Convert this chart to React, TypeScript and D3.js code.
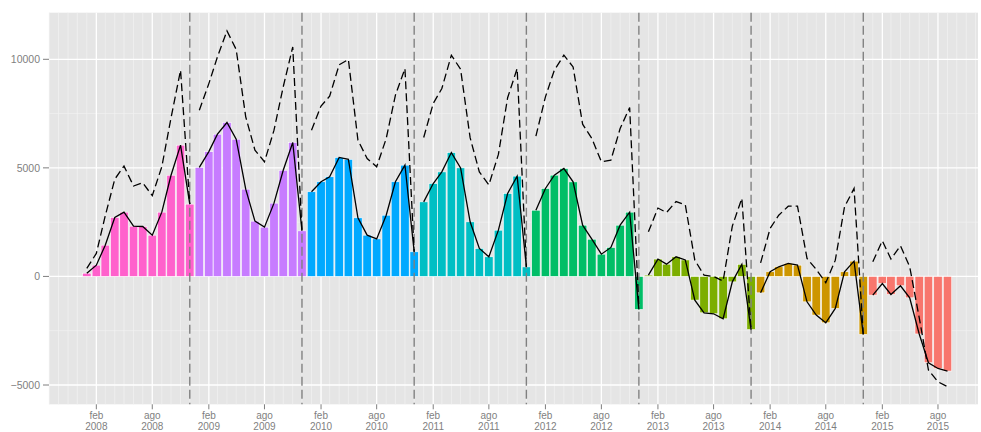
import React from "react";
import * as d3 from "d3";

const years = [2008, 2009, 2010, 2011, 2012, 2013, 2014, 2015];
const yearColors = ["#FF61CC", "#C77CFF", "#00A9FF", "#00BFC4", "#00BE67", "#7CAE00", "#CD9600", "#F8766D"];

// monthly values, Jan 2008 .. Sep 2015
const barValues = [
  150, 520, 1440, 2715, 2960, 2315, 2300, 1900, 2960, 4660, 6045, 3330,
  5020, 5750, 6550, 7090, 6320, 4020, 2545, 2270, 3375, 4890, 6170, 2100,
  3900, 4360, 4590, 5480, 5390, 2700, 1900, 1730, 2820, 4360, 5125, 1135,
  3435, 4280, 4815, 5705, 5000, 2515, 1290, 905, 2130, 3820, 4620, 440,
  3050, 4050, 4665, 4970, 4355, 2360, 1715, 1025, 1335, 2360, 2960, -1520,
  60, 800, 565, 905, 760, -1090, -1675, -1720, -1950, -250, 560, -2450,
  -755, 215, 445, 600, 520, -1170, -1780, -2135, -1475, 215, 705, -2670,
  -860, -325, -830, -430, -985, -2650, -3975, -4240, -4360,
];

const dashValues = [
  370, 1060, 2790, 4480, 5080, 4165, 4315, 3720, 5050, 7300, 9500, 3330,
  7650, 8880, 10110, 11310, 10450, 7350, 5815, 5280, 6735, 8730, 10570, 2100,
  6735, 7850, 8300, 9750, 9990, 6280, 5430, 5050, 6350, 8350, 9575, 1135,
  6400, 7965, 8655, 10190, 9540, 6390, 4815, 4215, 5620, 8230, 9575, 440,
  6460, 8270, 9500, 10190, 9650, 7010, 6350, 5280, 5355, 6810, 7780, -1450,
  2055, 3150, 2945, 3450, 3300, 750, 60, 0, -215, 2320, 3600, -2450,
  625, 2210, 2820, 3235, 3235, 830, 320, -290, 750, 3205, 4050, -2670,
  675, 1640, 800, 1410, 445, -1900, -4310, -4850, -5080,
];

const xTickMonths = [1, 7];
const xTickNames = ["feb", "ago"];
const yTicks = [-5000, 0, 5000, 10000];
const yMinorTicks = [-2500, 2500, 7500];

const W = 981;
const H = 432;
const PL = 49;
const PR = 978;
const PT = 12.7;
const PB = 404.3;
const FONT = "'Liberation Sans', Arial, Helvetica, sans-serif";
const AXIS_COL = "#7f7f7f";

export default function App() {
  const dates = barValues.map((_, i) => new Date(Date.UTC(2008, i, 1)));
  const x = d3
    .scaleUtc()
    .domain([new Date(Date.UTC(2008, 0, 1)), new Date(Date.UTC(2015, 8, 1))])
    .range([86.8, 947.5]);
  const y = d3.scaleLinear().domain([-5000, 10000]).range([385, 59.3]);

  const pxPerDay = (x.range()[1] - x.range()[0]) / 2799;
  const barW = 27.5 * pxPerDay;

  const allMonths = d3.utcMonth.range(x.invert(PL), x.invert(PR));
  const minorMonths = allMonths.filter((d) => !xTickMonths.includes(d.getUTCMonth()));
  const majorTicks: { d: Date; m: string; yr: number }[] = [];
  years.forEach((yr) =>
    xTickMonths.forEach((m, k) => majorTicks.push({ d: new Date(Date.UTC(yr, m, 1)), m: xTickNames[k], yr }))
  );
  const vlines = years.slice(0, -1).map((yr) => new Date(Date.UTC(yr, 11, 1)));

  const line = d3
    .line<[Date, number]>()
    .x((p) => x(p[0]))
    .y((p) => y(p[1]));

  const groups = years.map((yr, gi) => {
    const idx = dates.map((d, i) => i).filter((i) => dates[i].getUTCFullYear() === yr);
    return {
      yr,
      color: yearColors[gi],
      idx,
      solid: line(idx.map((i) => [dates[i], barValues[i]] as [Date, number])) || "",
      dashed: line(idx.map((i) => [dates[i], dashValues[i]] as [Date, number])) || "",
    };
  });

  return (
    <svg
      width={W}
      height={H}
      style={{ position: "fixed", left: 0, top: 0, background: "#fff" }}
      fontFamily={FONT}
    >
      <rect x={PL} y={PT} width={PR - PL} height={PB - PT} fill="#E5E5E5" />
      {yMinorTicks.map((v) => (
        <line key={"ym" + v} x1={PL} x2={PR} y1={y(v)} y2={y(v)} stroke="#F2F2F2" strokeWidth={0.7} />
      ))}
      {minorMonths.map((d) => (
        <line key={"xm" + d.getTime()} x1={x(d)} x2={x(d)} y1={PT} y2={PB} stroke="#F2F2F2" strokeWidth={0.7} />
      ))}
      {yTicks.map((v) => (
        <line key={"yM" + v} x1={PL} x2={PR} y1={y(v)} y2={y(v)} stroke="#fff" strokeWidth={1.3} />
      ))}
      {majorTicks.map((t) => (
        <line key={"xM" + t.d.getTime()} x1={x(t.d)} x2={x(t.d)} y1={PT} y2={PB} stroke="#fff" strokeWidth={1.3} />
      ))}

      {groups.map((g) =>
        g.idx.map((i) => (
          <rect
            key={"b" + i}
            x={x(dates[i]) - barW / 2}
            y={Math.min(y(barValues[i]), y(0))}
            width={barW}
            height={Math.abs(y(barValues[i]) - y(0))}
            fill={g.color}
            stroke="#fff"
            strokeWidth={0.6}
          />
        ))
      )}

      {vlines.map((d) => (
        <line
          key={"v" + d.getTime()}
          x1={x(d)}
          x2={x(d)}
          y1={PT}
          y2={PB}
          stroke="#808080"
          strokeWidth={1.4}
          strokeDasharray="9,4"
        />
      ))}

      {groups.map((g) => (
        <g key={"l" + g.yr}>
          <path d={g.dashed} fill="none" stroke="#000" strokeWidth={1.3} strokeDasharray="8,4" />
          <path d={g.solid} fill="none" stroke="#000" strokeWidth={1.3} />
        </g>
      ))}

      {yTicks.map((v) => (
        <g key={"yt" + v}>
          <line x1={PL - 6} x2={PL} y1={y(v)} y2={y(v)} stroke={AXIS_COL} strokeWidth={1} />
          <text x={PL - 9} y={y(v)} dy="0.35em" textAnchor="end" fontSize={10.5} fill={AXIS_COL}>
            {v < 0 ? "\u2212" + Math.abs(v) : String(v)}
          </text>
        </g>
      ))}
      {majorTicks.map((t) => (
        <g key={"xt" + t.d.getTime()}>
          <line x1={x(t.d)} x2={x(t.d)} y1={PB} y2={PB + 5} stroke={AXIS_COL} strokeWidth={1} />
          <text x={x(t.d)} y={418.6} textAnchor="middle" fontSize={10} fill={AXIS_COL}>
            {t.m}
          </text>
          <text x={x(t.d)} y={429.8} textAnchor="middle" fontSize={10} fill={AXIS_COL}>
            {t.yr}
          </text>
        </g>
      ))}
    </svg>
  );
}
